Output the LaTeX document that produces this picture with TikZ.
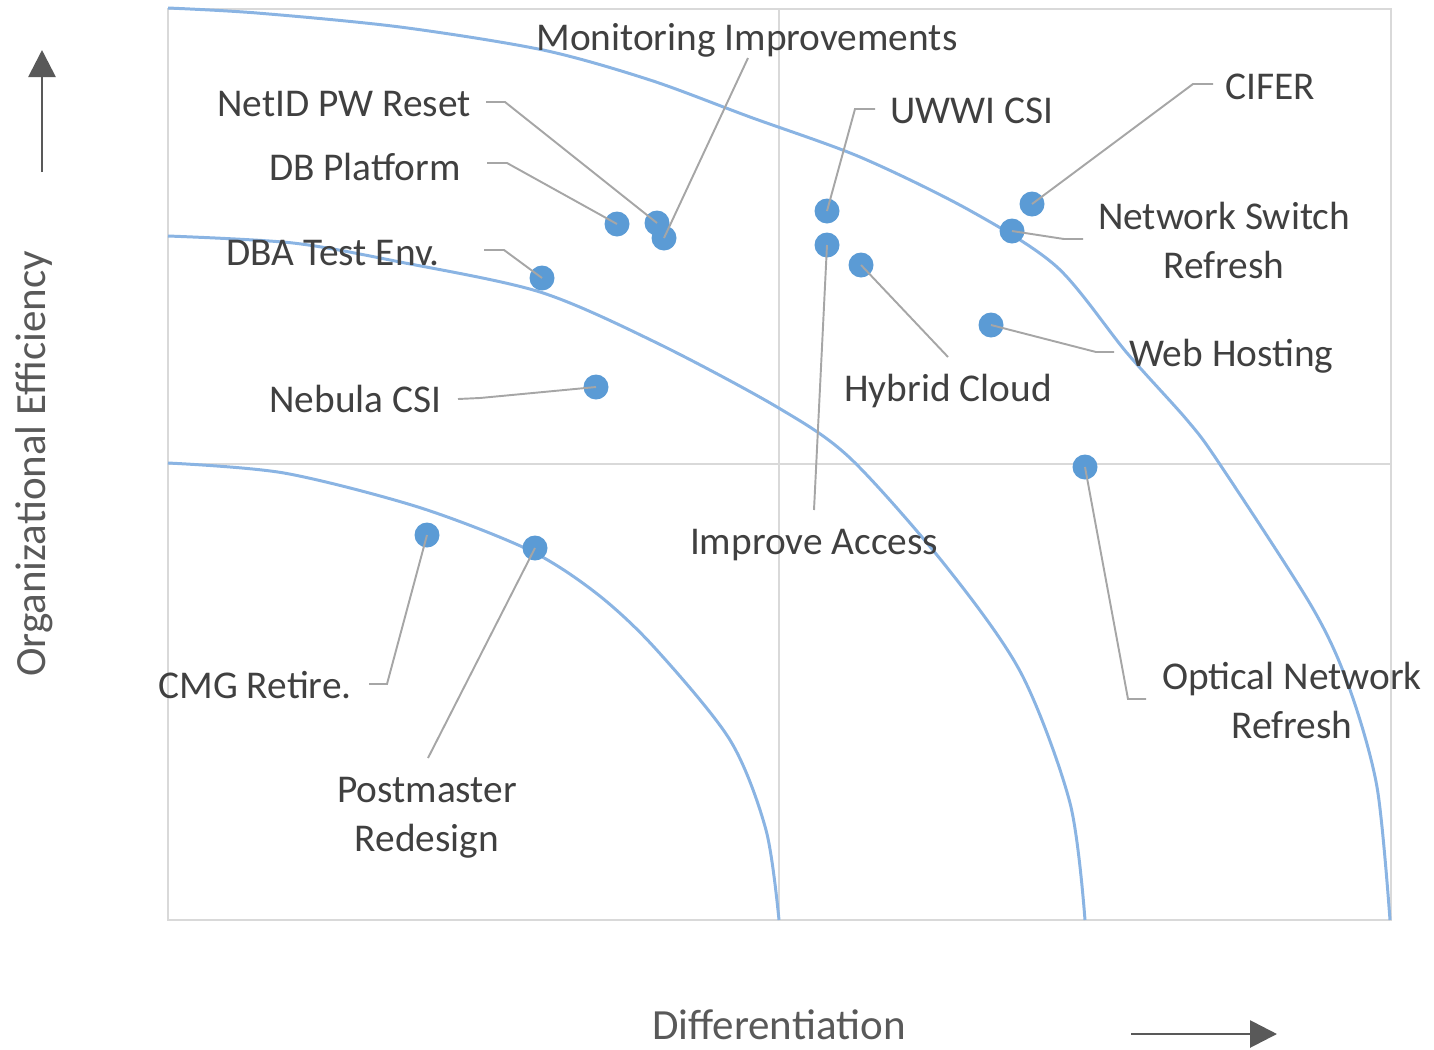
\documentclass[tikz,border=0pt]{standalone}
\usepackage{fontspec}
\setmainfont{Carlito}
\usepackage{tikz}
\usepackage{xcolor}
\usetikzlibrary{arrows.meta}

\definecolor{curveblue}{RGB}{138,180,227}
\definecolor{dotblue}{RGB}{91,155,213}
\definecolor{leadgray}{RGB}{166,166,166}
\definecolor{gridgray}{RGB}{217,217,217}
\definecolor{txtgray}{RGB}{64,64,64}
\definecolor{axisgray}{RGB}{89,89,89}

\begin{document}
\begin{tikzpicture}[x=0.02cm, y=-0.02cm, >=latex,
  dot/.style={circle, fill=dotblue, inner sep=0pt, minimum size=0.5cm},
  leader/.style={leadgray, line width=1.1pt},
  frontier/.style={curveblue, line width=1.7pt},
  lbl/.style={inner sep=0pt, text=txtgray, font=\fontsize{22.4}{27.4}\selectfont},
  axislbl/.style={inner sep=0pt, text=axisgray, font=\fontsize{24.5}{29}\selectfont},
  axisarrow/.style={axisgray, line width=1.6pt, -{Triangle[length=0.54cm, width=0.54cm]}}]
\useasboundingbox (0,0) rectangle (1434,1049);

%Frame
\draw[gridgray, line width=1.1pt] (168,9) rectangle (1391,920);
\draw[gridgray, line width=1.1pt] (779,9) -- (779,920);
\draw[gridgray, line width=1.1pt] (168,464) -- (1391,464);

%Frontiers
\draw[frontier] plot[smooth, tension=0.5] coordinates {(168,8) (257,13) (400,27) (543,50) (650,80) (750,117) (860,157) (969,210) (1057,267) (1127,353) (1187,420) (1219,463) (1312,607) (1349,687) (1377,787) (1390,920)};
\draw[frontier] plot[smooth, tension=0.5] coordinates {(168,236) (293,243) (400,262) (540,292) (657,343) (777,407) (850,458) (945,565) (1021,673) (1070,803) (1085,920)};
\draw[frontier] plot[smooth, tension=0.5] coordinates {(168,463) (284,473) (418,507) (529,550) (596,593) (654,647) (730,740) (766,830) (779,920)};

%Projects
\foreach \n/\x/\y in {netid/657/223, dbplat/617/224, monitor/664/238, dbatest/542/278,
    nebula/596/387, uwwi/827/211, access/827/245, hybrid/861/265, cifer/1032/204,
    netsw/1012/231, web/991/325, optical/1085/467, cmg/427/535, postm/535/548} {
  \node[dot] (d-\n) at (\x,\y) {};
}

%Leader ends
\foreach \n/\x/\y in {netid/486/102, dbplat/487/163, dbatest/484/250, nebula/458/399,
    monitor/748/58, uwwi/875/109, access/814/510, hybrid/948/357, cifer/1213/84,
    netsw/1083/239, web/1114/352, optical/1146/699, cmg/369/684, postm/428/758} {
  \coordinate (e-\n) at (\x,\y);
}

\draw[leader] (e-netid) -- ++(19,0) -- (d-netid.center);
\draw[leader] (e-dbplat) -- ++(20,0) -- (d-dbplat.center);
\draw[leader] (e-dbatest) -- ++(20,0) -- (d-dbatest.center);
\draw[leader] (e-nebula) -- ++(22,-1) -- (d-nebula.center);
\draw[leader] (e-monitor) -- (d-monitor.center);
\draw[leader] (e-uwwi) -- ++(-20,0) -- (d-uwwi.center);
\draw[leader] (e-access) -- (d-access.center);
\draw[leader] (e-hybrid) -- (d-hybrid.center);
\draw[leader] (e-cifer) -- ++(-20,0) -- (d-cifer.center);
\draw[leader] (e-netsw) -- ++(-19,0) -- (d-netsw.center);
\draw[leader] (e-web) -- ++(-18,0) -- (d-web.center);
\draw[leader] (e-optical) -- ++(-18,0) -- (d-optical.center);
\draw[leader] (e-cmg) -- ++(18,0) -- (d-cmg.center);
\draw[leader] (e-postm) -- (d-postm.center);

%Labels
\node[lbl, anchor=base west] (monitor) at (536,50) {Monitoring Improvements};
\node[lbl, anchor=base east] (netid) at (471,116) {NetID PW Reset};
\node[lbl, anchor=base east] (dbplat) at (461,180) {DB Platform};
\node[lbl, anchor=base east] (dbatest) at (440,265) {DBA Test Env.};
\node[lbl, anchor=base east] (nebula) at (442,412) {Nebula CSI};
\node[lbl, anchor=base west] (uwwi) at (890,123) {UWWI CSI};
\node[lbl, anchor=base west] (cifer) at (1225,99) {CIFER};
\node[lbl, anchor=base, align=center] (netsw) at (1224,278) {Network Switch\\Refresh};
\node[lbl, anchor=base west] (web) at (1129,366) {Web Hosting};
\node[lbl, anchor=base west] (hybrid) at (844,401) {Hybrid Cloud};
\node[lbl, anchor=base] (access) at (814,554) {Improve Access};
\node[lbl, anchor=base, align=center] (optical) at (1292,738) {Optical Network\\Refresh};
\node[lbl, anchor=base east] (cmg) at (352,698) {CMG Retire.};
\node[lbl, anchor=base, align=center] (postm) at (427,851) {Postmaster\\Redesign};

%Axes
\coordinate (up0) at (42,172);
\coordinate (up1) at (42,50);
\draw[axisarrow] (up0) -- (up1);
\node[axislbl, anchor=base, rotate=90] (yaxis) at (45,464) {Organizational Efficiency};
\coordinate (rt0) at (1131,1034);
\coordinate (rt1) at (1277,1034);
\draw[axisarrow] (rt0) -- (rt1);
\node[axislbl, anchor=base] (xaxis) at (779,1039) {Differentiation};
\end{tikzpicture}
\end{document}
